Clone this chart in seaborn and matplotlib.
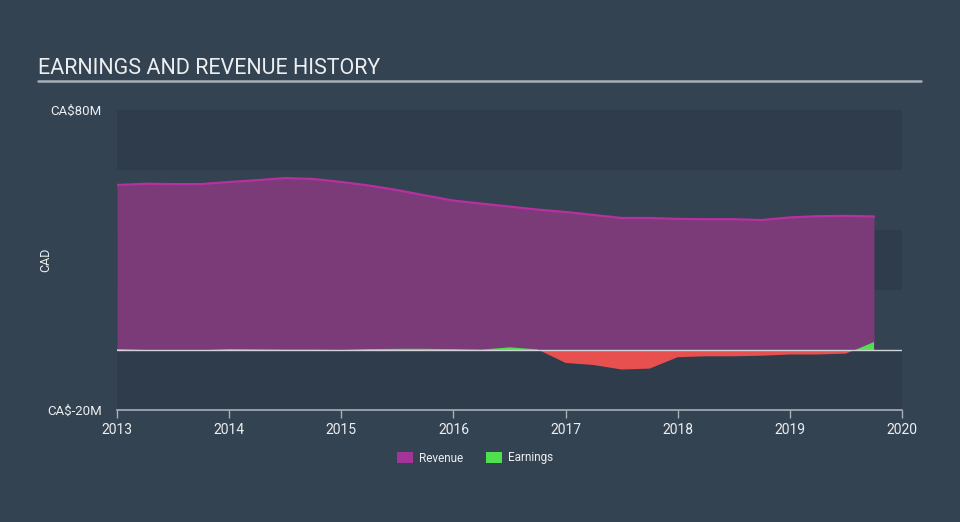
import numpy as np
import pandas as pd
import matplotlib
matplotlib.use("Agg")
import matplotlib.pyplot as plt
from matplotlib.patches import Patch
import seaborn as sns

# ---- data (CA$ millions) ----
dates = [2013.0, 2013.25, 2013.5, 2013.75, 2014.0, 2014.25, 2014.5, 2014.75,
         2015.0, 2015.25, 2015.5, 2015.75, 2016.0, 2016.25, 2016.5, 2016.75,
         2017.0, 2017.25, 2017.5, 2017.75, 2018.0, 2018.25, 2018.5, 2018.75,
         2019.0, 2019.25, 2019.5, 2019.75]
revenue = [55.0, 55.4, 55.3, 55.3, 56.0, 56.6, 57.3, 57.0,
           56.0, 54.8, 53.3, 51.5, 49.8, 48.8, 47.8, 46.8,
           46.0, 45.0, 44.0, 44.0, 43.7, 43.6, 43.6, 43.3,
           44.2, 44.6, 44.7, 44.5]
earnings = [0.3, 0.0, -0.2, -0.1, 0.3, 0.2, 0.1, 0.1,
            0.0, 0.3, 0.4, 0.4, 0.3, 0.1, 0.9, 0.2,
            -4.3, -5.0, -6.5, -6.2, -2.4, -2.1, -2.1, -1.9,
            -1.5, -1.5, -1.2, 2.7]
year_ticks = [2013, 2014, 2015, 2016, 2017, 2018, 2019, 2020]
y_ticks = [-20, 80]
y_tick_labels = ["CA$-20M", "CA$80M"]
legend_labels = ["Revenue", "Earnings"]

df = pd.DataFrame({"date": dates, "revenue": revenue, "earnings": earnings})

sns.set_theme(style="dark")
plt.rcParams["font.family"] = ["Roboto", "DejaVu Sans"]

BG = "#344352"
BAND = "#2e3c4b"
TXT = "#eceef0"
REV_FILL = "#7b3a78"
REV_LINE = "#b8309f"
GREEN = "#4ee04e"
RED = "#e85050"

fig = plt.figure(figsize=(9.6, 5.22), dpi=100, facecolor=BG)
W, H = 960, 522
ax = fig.add_axes([117 / W, (H - 410) / H, (902 - 117) / W, 300 / H])
ax.set_facecolor(BG)

# alternating bands
for lo, hi in [(-20, 0), (20, 40), (60, 80)]:
    ax.axhspan(lo, hi, color=BAND, lw=0, zorder=0)

x = np.array(dates)
rev = np.array(revenue)
ear = np.array(earnings)

ax.fill_between(x, 0, rev, color=REV_FILL, lw=0, zorder=2)
sns.lineplot(data=df, x="date", y="revenue", ax=ax, color=REV_LINE, lw=1.6, zorder=3)

ax.fill_between(x, 0, ear, where=ear >= 0, interpolate=True, color=GREEN, lw=0, zorder=4)
ax.fill_between(x, 0, ear, where=ear <= 0, interpolate=True, color=RED, lw=0, zorder=4)

ax.axhline(0, color="#d0d4d8", lw=1.0, zorder=5)

ax.set_xlim(2013, 2020)
ax.set_ylim(-20, 80)
ax.set_xticks(year_ticks)
ax.set_xticklabels([str(y) for y in year_ticks], color=TXT, fontsize=10)
ax.set_yticks(y_ticks)
ax.set_yticklabels(y_tick_labels, color=TXT, fontsize=9.5)
ax.tick_params(axis="x", length=6, width=1, color="#a8b0b8", pad=3, bottom=True)
ax.tick_params(axis="y", length=0, pad=11)
ax.set_xlabel("")
ax.set_ylabel("CAD", color=TXT, fontsize=9)
ax.yaxis.set_label_coords(-0.083, 0.5)
for s in ["top", "right", "left"]:
    ax.spines[s].set_visible(False)
ax.spines["bottom"].set_color("#a8b0b8")
ax.spines["bottom"].set_linewidth(1.2)
ax.grid(False)

# title and underline
fig.text(38 / W, 1 - 68 / H, "EARNINGS AND REVENUE HISTORY", color=TXT,
         fontsize=15.5, va="center", ha="left")
fig.add_artist(plt.Line2D([38 / W, 921 / W], [1 - 81 / H, 1 - 81 / H],
                          color="#a9b0b8", lw=1.8, transform=fig.transFigure))

# legend
handles = [Patch(facecolor="#a3359a", edgecolor="none"),
           Patch(facecolor=GREEN, edgecolor="none")]
fig.legend(handles, legend_labels, loc="center", bbox_to_anchor=(475 / W, 1 - 458 / H),
           ncol=2, frameon=False, fontsize=8.5, labelcolor=TXT,
           handlelength=1.3, handleheight=1.0, columnspacing=2.0, handletextpad=0.5)

fig.savefig("out.png", dpi=100, facecolor=BG)
